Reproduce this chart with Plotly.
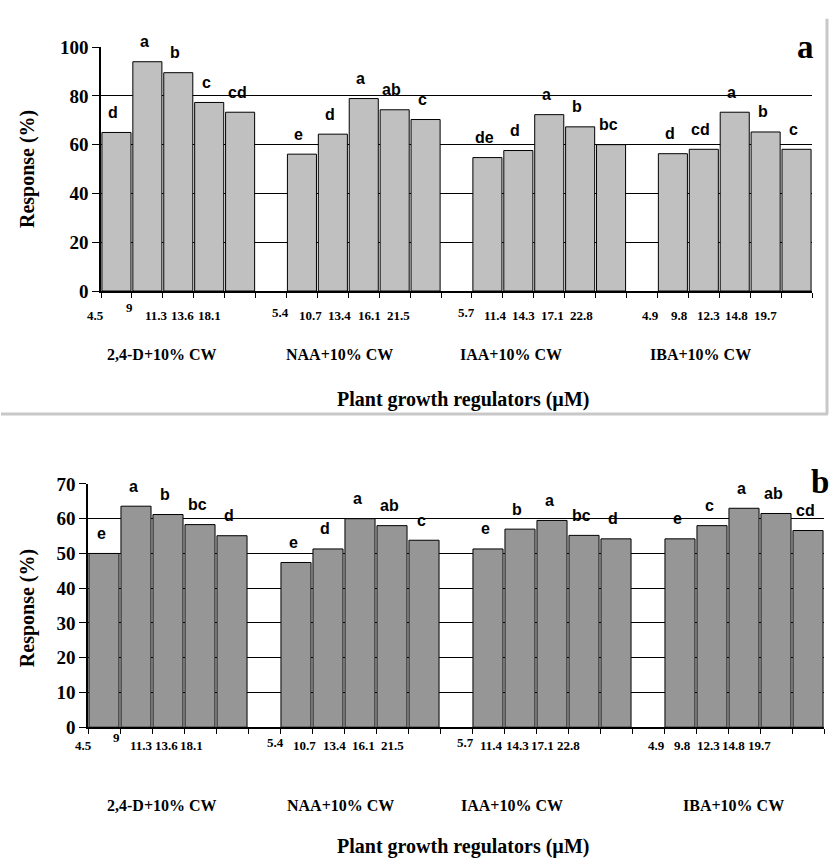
import plotly.graph_objects as go

W, H = 831, 868

groups = ["2,4-D+10% CW", "NAA+10% CW", "IAA+10% CW", "IBA+10% CW"]
conc = [
    ["4.5", "9", "11.3", "13.6", "18.1"],
    ["5.4", "10.7", "13.4", "16.1", "21.5"],
    ["5.7", "11.4", "14.3", "17.1", "22.8"],
    ["4.9", "9.8", "12.3", "14.8", "19.7"],
]

resp_a = [
    [65, 94, 89.5, 77.3, 73.3],
    [56.1, 64.3, 78.9, 74.3, 70.3],
    [54.7, 57.6, 72.3, 67.3, 60],
    [56.3, 58.1, 73.3, 65.2, 58.1],
]
letters_a = [
    ["d", "a", "b", "c", "cd"],
    ["e", "d", "a", "ab", "c"],
    ["de", "d", "a", "b", "bc"],
    ["d", "cd", "a", "b", "c"],
]

resp_b = [
    [50, 63.6, 61.2, 58.3, 55.1],
    [47.4, 51.3, 60, 58, 53.8],
    [51.3, 57, 59.5, 55.2, 54.2],
    [54.2, 58, 63, 61.5, 56.6],
]
letters_b = [
    ["e", "a", "b", "bc", "d"],
    ["e", "d", "a", "ab", "c"],
    ["e", "b", "a", "bc", "d"],
    ["e", "c", "a", "ab", "cd"],
]

y_title = "Response (%)"
x_title = "Plant growth regulators (\u00b5M)"

SERIF = "Liberation Serif"
SANS = "Liberation Sans"
NSLOT = 23


def px_x(p):
    return p / W


def px_y(p):
    return 1 - p / H


fig = go.Figure()

panels = [
    dict(vals=resp_a, lets=letters_a, color="#C0C0C0", xa="x", ya="y",
         xdom=(101, 812), ydom=(288, 38), yrange=(0, 100), dtick=20,
         tick_y=313, group_y=353, title_y=399, ytitle_y=163,
         start=[-0.68, -0.68, -0.68, -0.72], step=[0.86, 0.95, 0.93, 0.93],
         gx=[1.47, 7.23, 12.76, 18.9], panel="a", panel_xy=(805, 38)),
    dict(vals=resp_b, lets=letters_b, color="#969696", xa="x2", ya="y2",
         xdom=(88, 824), ydom=(735, 485.7), yrange=(0, 70), dtick=10,
         tick_y=754, group_y=815, title_y=857, ytitle_y=613,
         start=[-0.65, -0.65, -0.69, -0.72], step=[0.78, 0.92, 0.8, 0.8],
         gx=[1.81, 7.4, 12.75, 19.66], panel="b", panel_xy=(820, 484)),
]

annotations = []
for pi, P in enumerate(panels):
    x0p, x1p = P["xdom"]

    def slot_to_px(v, x0p=x0p, x1p=x1p):
        return x0p + (v + 0.5) / NSLOT * (x1p - x0p)

    xs, ys = [], []
    for g in range(4):
        for i in range(5):
            xs.append(g * 6 + i)
            ys.append(P["vals"][g][i])
    fig.add_trace(go.Bar(
        x=xs, y=ys, xaxis=P["xa"], yaxis=P["ya"], width=0.94,
        marker=dict(color=P["color"], line=dict(color="black", width=1)),
        showlegend=False, hoverinfo="skip"))

    xref = P["xa"]
    yref = P["ya"]
    # significance letters
    for g in range(4):
        for i in range(5):
            annotations.append(dict(
                x=g * 6 + i, y=P["vals"][g][i], xref=xref, yref=yref,
                text=P["lets"][g][i], showarrow=False,
                xanchor="center", yanchor="middle",
                yshift=20, xshift=-3,
                font=dict(family=SANS, size=16, color="black", weight="bold")))
    # concentration labels
    for g in range(4):
        for i in range(5):
            raise_px = 8 if (g == 0 and i == 1) else (3 if i == 0 and g in (1, 2) else 0)
            v = g * 6 + P["start"][g] + P["step"][g] * i
            if g == 0 and i >= 1:
                v += 0.25
            annotations.append(dict(
                x=px_x(slot_to_px(v)), y=px_y(P["tick_y"] - raise_px),
                xref="paper", yref="paper",
                text=conc[g][i], showarrow=False,
                xanchor="center", yanchor="middle",
                font=dict(family=SERIF, size=13, color="black", weight="bold")))
    # group labels
    for g in range(4):
        annotations.append(dict(
            x=px_x(slot_to_px(P["gx"][g])), y=px_y(P["group_y"]),
            xref="paper", yref="paper",
            text=groups[g], showarrow=False,
            xanchor="center", yanchor="middle",
            font=dict(family=SERIF, size=16, color="black", weight="bold")))
    # axis titles
    annotations.append(dict(
        x=px_x(463), y=px_y(P["title_y"]), xref="paper", yref="paper",
        text=x_title, showarrow=False, xanchor="center", yanchor="middle",
        font=dict(family=SERIF, size=20, color="black", weight="bold")))
    annotations.append(dict(
        x=px_x(27), y=px_y(P["ytitle_y"]), xref="paper", yref="paper",
        text=y_title, showarrow=False, textangle=-90, xanchor="center", yanchor="middle",
        font=dict(family=SERIF, size=20, color="black", weight="bold")))
    # panel letter
    annotations.append(dict(
        x=px_x(P["panel_xy"][0]), y=px_y(P["panel_xy"][1]), xref="paper", yref="paper",
        text=P["panel"], showarrow=False, xanchor="center", yanchor="middle",
        font=dict(family=SERIF, size=33, color="black", weight="bold")))

    axis_x = dict(
        domain=[px_x(x0p), px_x(x1p)],
        range=[-0.5, NSLOT - 0.5], tickmode="array",
        tickvals=[k - 0.5 for k in range(NSLOT + 1)], ticktext=[""] * (NSLOT + 1),
        ticks="outside", ticklen=5, tickcolor="black", tickwidth=1,
        showline=True, linecolor="black", linewidth=1.5,
        showgrid=False, zeroline=False, anchor=yref, fixedrange=True,
    )
    axis_y = dict(
        domain=[px_y(P["ydom"][0]), px_y(P["ydom"][1])],
        range=list(P["yrange"]), dtick=P["dtick"], tick0=0,
        ticks="outside", ticklen=7, tickcolor="black", tickwidth=1,
        showline=True, linecolor="black", linewidth=1.5,
        showgrid=True, gridcolor="black", gridwidth=1,
        zeroline=False, anchor=xref, fixedrange=True,
        tickfont=dict(family=SERIF, size=19, color="black", weight="bold"),
    )
    if pi == 0:
        fig.update_layout(xaxis=axis_x, yaxis=axis_y)
    else:
        fig.update_layout(xaxis2=axis_x, yaxis2=axis_y)

shapes = [
    dict(type="line", xref="paper", yref="paper", x0=px_x(827), x1=px_x(827),
         y0=px_y(9), y1=px_y(414), line=dict(color="#C8C8C8", width=3)),
    dict(type="line", xref="paper", yref="paper", x0=px_x(1), x1=px_x(828),
         y0=px_y(414), y1=px_y(414), line=dict(color="#C8C8C8", width=3)),
]

fig.update_layout(
    width=W, height=H, margin=dict(l=0, r=0, t=0, b=0),
    paper_bgcolor="white", plot_bgcolor="white",
    bargap=0.06, annotations=annotations, shapes=shapes,
)

fig.write_html(
    "out.html",
    config={"displayModeBar": False},
    post_script="document.body.style.margin='0';document.body.style.overflow='hidden';",
)
